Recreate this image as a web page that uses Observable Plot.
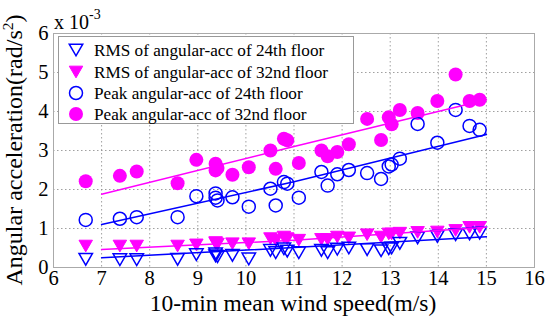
<!DOCTYPE html>
<html><head><meta charset="utf-8">
<script src="https://cdn.jsdelivr.net/npm/d3@7"></script>
<script src="https://cdn.jsdelivr.net/npm/@observablehq/plot@0.6"></script>
<style>
body{margin:0;background:#fff;}
#chart{position:relative;width:550px;height:324px;}
#chart svg text{font-family:"Liberation Serif","Times New Roman","DejaVu Serif",serif !important;}
</style></head><body><div id="chart"></div>
<script>
// wind speed of each 10-min sample (m/s)
const speed = [6.67, 7.38, 7.73, 8.58, 8.97, 9.37, 9.37, 9.41, 9.72, 10.06, 10.51, 10.62, 10.79, 10.86, 11.10, 11.57, 11.70, 11.90, 12.14, 12.52, 12.81, 12.97, 13.03, 13.20, 13.57, 13.98, 14.36, 14.65, 14.86];
// values in units of 1e-3 rad/s^2
const rms24  = [0.21, 0.20, 0.20, 0.21, 0.33, 0.35, 0.30, 0.28, 0.31, 0.22, 0.44, 0.38, 0.48, 0.42, 0.38, 0.44, 0.38, 0.47, 0.50, 0.46, 0.43, 0.48, 0.50, 0.62, 0.76, 0.80, 0.84, 0.86, 0.88];
const rms32  = [0.55, 0.55, 0.55, 0.55, 0.58, 0.64, 0.62, 0.60, 0.61, 0.61, 0.74, 0.70, 0.78, 0.74, 0.70, 0.72, 0.72, 0.78, 0.76, 0.84, 0.78, 0.86, 0.86, 0.88, 0.90, 0.91, 0.95, 1.03, 1.03];
const peak24 = [1.22, 1.25, 1.29, 1.29, 1.83, 1.90, 1.79, 1.72, 1.80, 1.56, 2.02, 1.59, 2.19, 2.15, 1.79, 2.45, 2.10, 2.39, 2.50, 2.42, 2.27, 2.59, 2.64, 2.79, 3.68, 3.20, 4.04, 3.63, 3.53];
const peak32 = [2.21, 2.35, 2.46, 2.16, 2.76, 2.66, 2.49, 2.55, 2.38, 2.57, 3.00, 2.53, 3.30, 3.26, 2.68, 3.00, 2.85, 2.96, 3.16, 3.81, 3.27, 3.85, 3.67, 4.04, 3.96, 4.27, 4.95, 4.27, 4.30];
// fitted trend lines
const fitSpeed  = [7, 11, 15];
const fitRms24  = [0.25, 0.51, 0.79];
const fitRms32  = [0.46, 0.70, 1.03];
const fitPeak24 = [1.10, 2.20, 3.41];
const fitPeak32 = [1.88, 3.10, 4.30];
const xTicks = [6, 7, 8, 9, 10, 11, 12, 13, 14, 15, 16];
const yTicks = [0, 1, 2, 3, 4, 5, 6];
const legendLabels = ["RMS of angular-acc of 24th floor", "RMS of angular-acc of 32nd floor", "Peak angular-acc of 24th floor", "Peak angular-acc of 32nd floor"];

const blue = "#0000ff", magenta = "#ff00ff";
const font = "'Liberation Serif','Times New Roman','DejaVu Serif',serif";
const rows = ys => speed.map((x, i) => ({x, y: ys[i]}));
const fit = ys => fitSpeed.map((x, i) => ({x, y: ys[i]}));
const triDown = {
  draw(ctx, size) {
    const s = Math.sqrt(size / 0.4330127);
    const h = s * Math.sqrt(3) / 2;
    ctx.moveTo(-s / 2, -h / 2);
    ctx.lineTo(s / 2, -h / 2);
    ctx.lineTo(0, h / 2);
    ctx.closePath();
  }
};

const plot = Plot.plot({
  width: 550, height: 324,
  marginLeft: 53, marginRight: 16, marginTop: 33, marginBottom: 57,
  style: {fontFamily: font, fontSize: "20px", background: "#fff", color: "#000"},
  x: {domain: [6, 16], label: null},
  y: {domain: [0, 6], label: null},
  marks: [
    Plot.gridX(xTicks.slice(1, -1), {stroke: "#888", strokeOpacity: 0.8, strokeDasharray: "1.5,2.5"}),
    Plot.gridY(yTicks.slice(1, -1), {stroke: "#888", strokeOpacity: 0.8, strokeDasharray: "1.5,2.5"}),
    Plot.frame({stroke: "#aaa"}),
    Plot.axisX(xTicks, {tickSize: 0, tickPadding: 3, fontSize: 20.5, label: null}),
    Plot.axisY(yTicks, {tickSize: 0, tickPadding: 5, fontSize: 20.5, label: null}),
    Plot.dot(rows(rms32), {x: "x", y: "y", symbol: triDown, r: 5, fill: magenta, stroke: magenta, strokeWidth: 1}),
    Plot.dot(rows(peak32), {x: "x", y: "y", r: 7, fill: magenta, stroke: "none"}),
    Plot.dot(rows(rms24), {x: "x", y: "y", symbol: triDown, r: 5, fill: "none", stroke: blue, strokeWidth: 1.5}),
    Plot.dot(rows(peak24), {x: "x", y: "y", r: 6.5, fill: "none", stroke: blue, strokeWidth: 1.5}),
    Plot.line(fit(fitRms32), {x: "x", y: "y", stroke: magenta, strokeWidth: 1.5}),
    Plot.line(fit(fitPeak32), {x: "x", y: "y", stroke: magenta, strokeWidth: 1.5}),
    Plot.line(fit(fitRms24), {x: "x", y: "y", stroke: blue, strokeWidth: 1.5}),
    Plot.line(fit(fitPeak24), {x: "x", y: "y", stroke: blue, strokeWidth: 1.5})
  ]
});
document.getElementById("chart").appendChild(plot);

const svg = d3.select(plot);
// axis titles
svg.append("text").attr("x", 293).attr("y", 311).attr("text-anchor", "middle")
  .style("font-family", font).attr("font-size", 23.5).attr("fill", "#000")
  .text("10-min mean wind speed(m/s)");
const yt = svg.append("text").attr("transform", "translate(22,150) rotate(-90)").attr("text-anchor", "middle")
  .style("font-family", font).attr("font-size", 24).attr("fill", "#000");
yt.append("tspan").text("Angular acceleration(rad/s");
yt.append("tspan").attr("font-size", 15.5).attr("dy", -9).text("2");
yt.append("tspan").attr("dy", 9).text(")");
// exponent
const ex = svg.append("text").attr("x", 54).attr("y", 29).attr("text-anchor", "start")
  .style("font-family", font).attr("font-size", 20).attr("fill", "#000");
ex.append("tspan").text("x 10");
ex.append("tspan").attr("font-size", 14).attr("dy", -10).text("-3");

// legend
const lg = svg.append("g");
lg.append("rect").attr("x", 58.5).attr("y", 36.5).attr("width", 295).attr("height", 87)
  .attr("fill", "#fff").attr("stroke", "#999");
const rowY = [50, 72, 93, 114];
const sym = [
  {type: triDown, size: Math.PI * 25, fill: "none", stroke: blue, sw: 1.5},
  {type: triDown, size: Math.PI * 25, fill: magenta, stroke: magenta, sw: 1},
  {type: d3.symbolCircle, size: Math.PI * 6.5 * 6.5, fill: "none", stroke: blue, sw: 1.5},
  {type: d3.symbolCircle, size: Math.PI * 49, fill: magenta, stroke: "none", sw: 0}
];
legendLabels.forEach((t, i) => {
  const s = sym[i];
  lg.append("path").attr("d", d3.symbol(s.type, s.size)()).attr("transform", `translate(76,${rowY[i]})`)
    .attr("fill", s.fill).attr("stroke", s.stroke).attr("stroke-width", s.sw);
  lg.append("text").attr("x", 94).attr("y", rowY[i]).attr("dy", "0.35em").attr("text-anchor", "start")
    .style("font-family", font).attr("font-size", 17.2).attr("fill", "#000").text(t);
});
</script></body></html>
